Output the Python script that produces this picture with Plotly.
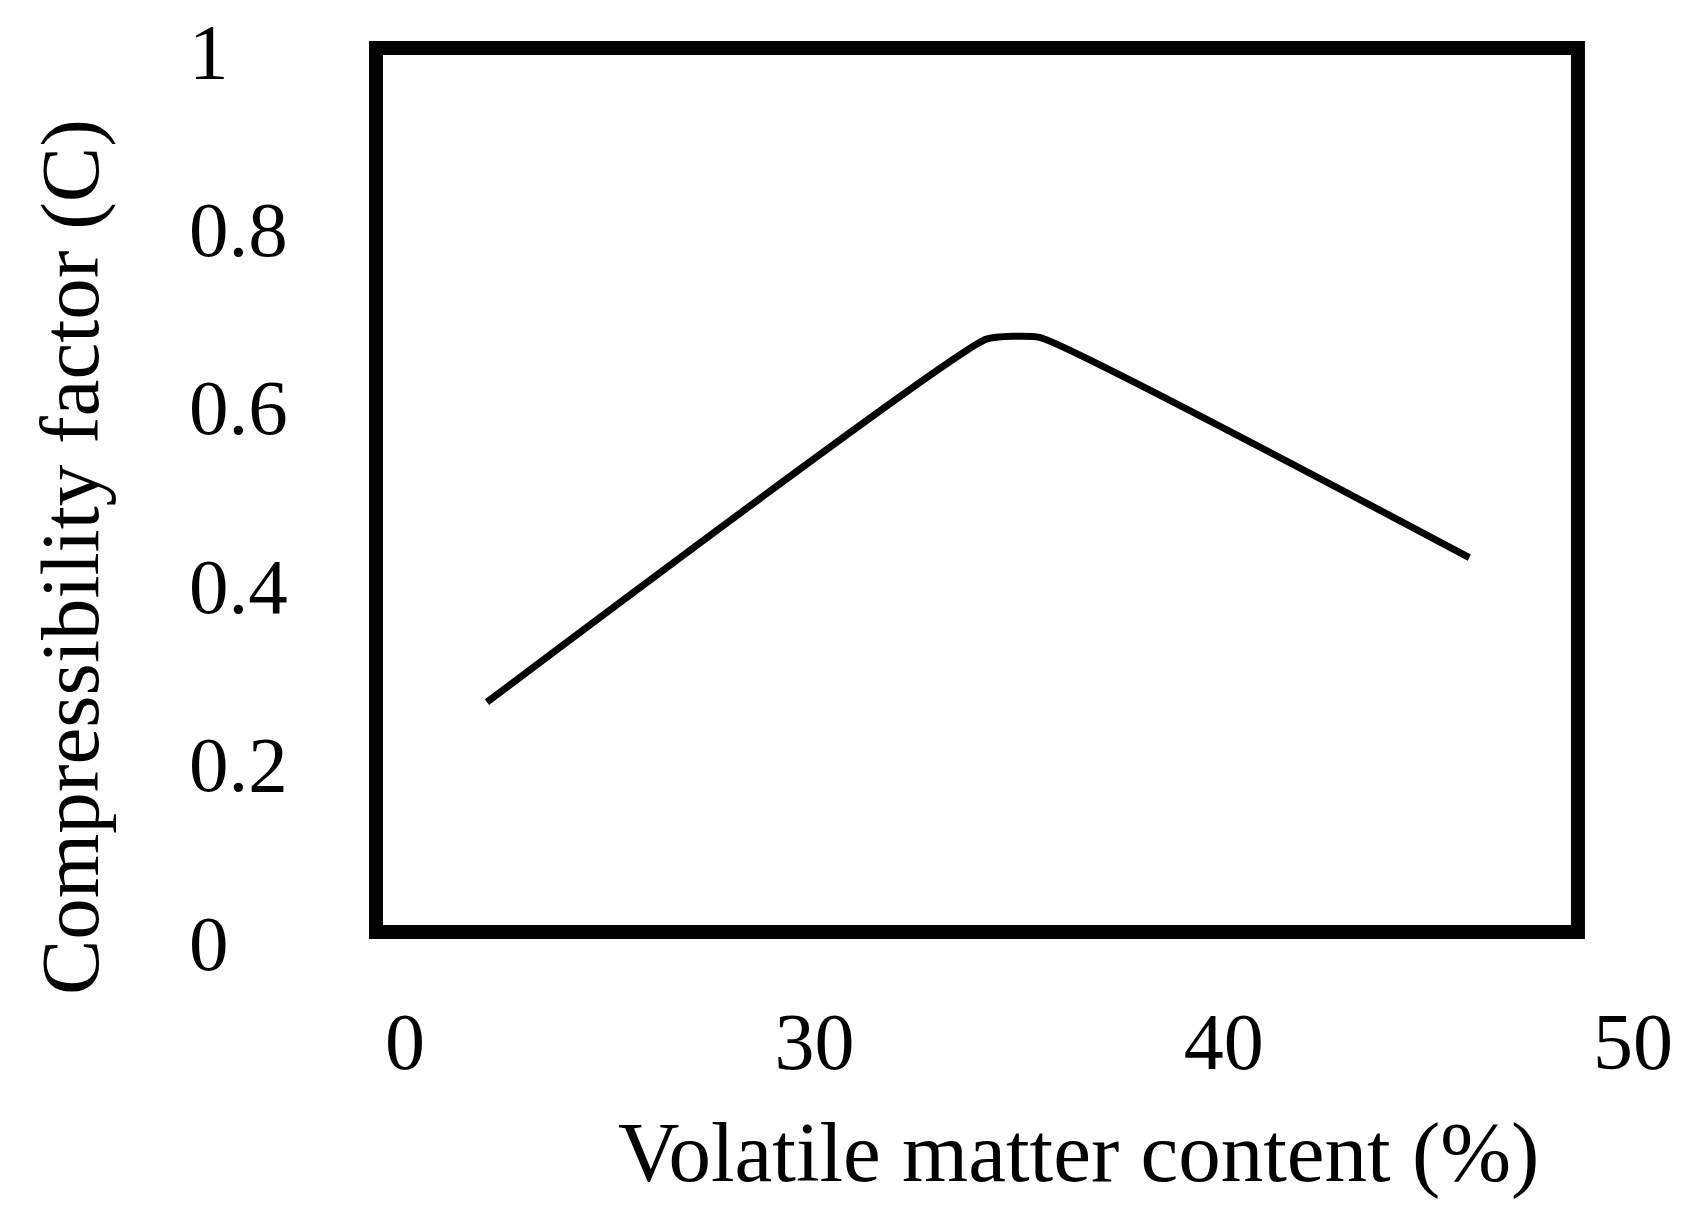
import plotly.graph_objects as go

# volatile matter content (%) vs compressibility factor C
volatile = [22.0, 34.2, 35.5, 46.0]
compress = [0.270, 0.677, 0.679, 0.432]

x_ticks = [20, 30, 40, 50]
x_labels = ["0", "30", "40", "50"]
y_ticks = [0, 0.2, 0.4, 0.6, 0.8, 1]
y_labels = ["0", "0.2", "0.4", "0.6", "0.8", "1"]

SERIF = "Liberation Serif, Times New Roman, serif"

fig = go.Figure()
fig.add_trace(go.Scatter(
    x=volatile, y=compress,
    mode="lines",
    line=dict(color="black", width=7, shape="spline", smoothing=0.35),
    showlegend=False,
))

# y tick labels are left aligned in the original, so use annotations
for v, t in zip(y_ticks, y_labels):
    fig.add_annotation(
        x=-0.1456, y=v, xref="paper", yref="y",
        text=t, showarrow=False, xanchor="left", yanchor="middle",
        font=dict(family=SERIF, size=79, color="black"),
    )

fig.add_annotation(
    x=0.5416, y=-0.2354, xref="paper", yref="paper",
    text="Volatile matter content (%)", showarrow=False,
    xanchor="center", yanchor="middle",
    font=dict(family=SERIF, size=85, color="black"),
)
fig.add_annotation(
    x=-0.2357, y=0.4327, xref="paper", yref="paper",
    text="Compressibility factor (C)", showarrow=False, textangle=-90,
    xanchor="center", yanchor="middle",
    font=dict(family=SERIF, size=83, color="black"),
)

# thick frame (narrower than the x range, "50" sits outside it)
fig.add_shape(
    type="rect", xref="paper", yref="paper",
    x0=0, x1=0.926, y0=0.0123, y1=1.0034,
    line=dict(color="black", width=14),
    fillcolor="rgba(0,0,0,0)",
)

fig.update_xaxes(
    range=[19.29, 51.0],
    tickvals=x_ticks, ticktext=x_labels,
    ticks="outside", ticklen=29, tickcolor="rgba(0,0,0,0)",
    showgrid=False, zeroline=False, showline=False,
    tickfont=dict(family=SERIF, size=80, color="black"),
)
fig.update_yaxes(
    range=[0, 1],
    tickvals=y_ticks, showticklabels=False,
    showgrid=False, zeroline=False, showline=False,
)
# page body keeps its 8px margin, so the figure is 8px smaller each way
fig.update_layout(
    width=1690, height=1204,
    margin=dict(l=368, r=24, t=43, b=269),
    paper_bgcolor="white", plot_bgcolor="white",
)

fig.write_html("out.html")
